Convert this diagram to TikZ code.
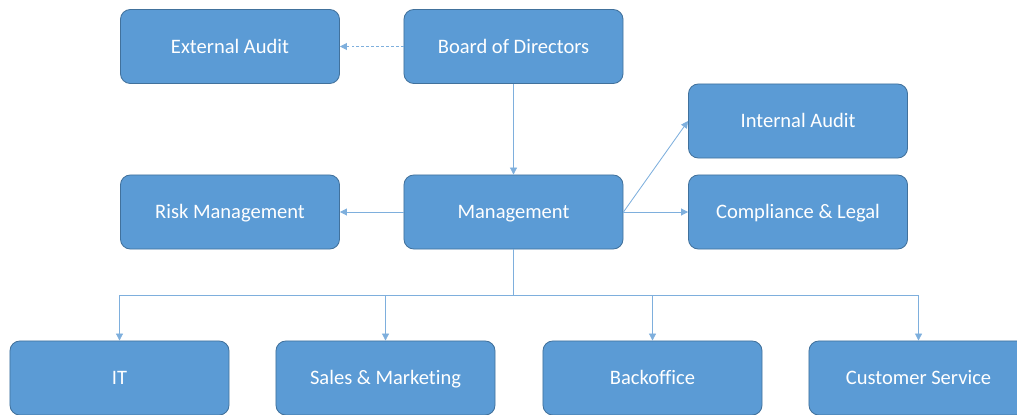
\documentclass[tikz,border=0pt]{standalone}
\usepackage{fontspec}
\setmainfont{Carlito}[Ligatures=NoCommon]
\usetikzlibrary{arrows.meta}
\definecolor{boxfill}{HTML}{5B9BD5}
\definecolor{boxline}{HTML}{41719C}
\definecolor{linkcol}{HTML}{7EAFDD}
\begin{document}
\begin{tikzpicture}[
            x=0.025cm, y=-0.025cm,
            unit/.style={draw=boxline, fill=boxfill, rounded corners=7pt, line width=0.6pt,
                minimum width=5.475cm, minimum height=1.85cm, inner sep=0pt,
                text height=12pt, text depth=2.6pt,
                text=white, font=\fontsize{14.6}{17}\selectfont},
            link/.style={draw=linkcol, line width=0.6pt, -{Triangle[width=5pt,length=5pt]}}
        ]

        \useasboundingbox (0, 0) rectangle (1017, 414);
        \clip (0, 0) rectangle (1017, 414);

        \node [unit] (EA) at (230, 46.5) {External Audit};
        \node [unit] (BD) at (513.5, 46.5) {Board of Directors};
        \node [unit] (IA) at (798, 121) {Internal Audit};
        \node [unit] (RM) at (230, 212) {Risk Management};
        \node [unit] (Mg) at (513.5, 212) {Management};
        \node [unit] (CL) at (798, 212) {Compliance \& Legal};
        \node [unit] (IT) at (119.5, 378) {IT};
        \node [unit] (SM) at (385.5, 378) {Sales \& Marketing};
        \node [unit] (BO) at (652.5, 378) {Backoffice};
        \node [unit] (CS) at (918.5, 378) {Customer Service};

        \coordinate (Br) at (513.5, 295);

        \draw [link, dash pattern=on 2pt off 1.5pt] (BD) -- (EA);
        \draw [link] (BD) -- (Mg);
        \draw [link] (Mg) -- (RM);
        \draw [link] (Mg) -- (CL);
        \draw [link] (Mg.east) -- (IA.west);
        \draw [link] (Mg.south) -- (Br) -| (IT);
        \draw [link] (Br) -| (SM);
        \draw [link] (Br) -| (BO);
        \draw [link] (Br) -| (CS);

        \end{tikzpicture}
\end{document}
